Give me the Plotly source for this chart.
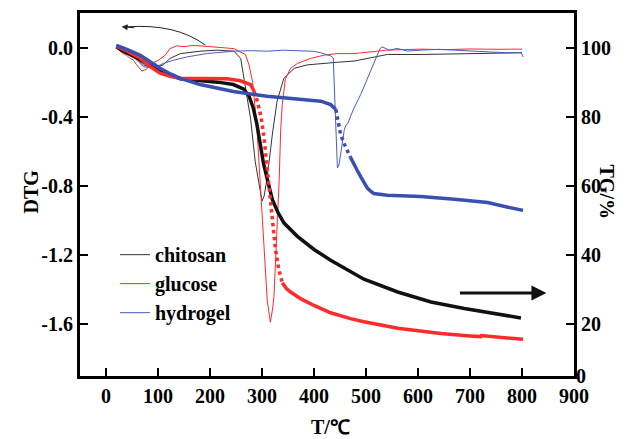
import plotly.graph_objects as go

# ---------------- data ----------------
# DTG curves (left axis)
chitosan_dtg_T = [20, 24, 35, 52, 72, 91, 110, 123, 143, 181, 214, 246, 259, 268, 278, 287, 297, 300, 304,
                  310, 320, 329, 342, 362, 387, 413, 445, 477, 516, 541, 606, 702, 800]
chitosan_dtg = [0.01, -0.01, -0.02, -0.044, -0.10, -0.12, -0.10, -0.063, -0.035, -0.021, -0.015, -0.021,
                -0.063, -0.22, -0.41, -0.66, -0.85, -0.888, -0.86, -0.754, -0.50, -0.31, -0.178, -0.12,
                -0.10, -0.095, -0.085, -0.078, -0.054, -0.04, -0.04, -0.035, -0.03]

glucose_dtg_T = [20, 24, 27, 33, 40, 46, 52, 59, 64, 69, 75, 80, 85, 92, 100, 107, 114, 123, 136, 150, 165,
                 181, 198, 214, 230, 246, 258, 268, 275, 282, 290, 297, 304, 310, 316, 320, 323, 327, 330,
                 333, 336, 339, 345, 355, 368, 393, 419, 445, 477, 510, 541, 570, 606, 650, 700, 750, 800]
glucose_dtg = [0.014, -0.01, -0.02, -0.035, -0.045, -0.063, -0.07, -0.10, -0.115, -0.136, -0.13, -0.12,
               -0.10, -0.085, -0.075, -0.06, -0.044, -0.006, 0.01, 0.005, 0.012, 0.01, 0.006, 0.004,
               -0.003, -0.006, -0.025, -0.04, -0.10, -0.20, -0.45, -0.80, -1.20, -1.46, -1.589, -1.52,
               -1.44, -1.20, -1.0, -0.77, -0.47, -0.33, -0.18, -0.12, -0.092, -0.063, -0.044, -0.035,
               -0.035, -0.025, -0.015, -0.012, -0.009, -0.012, -0.008, -0.01, -0.009]

hydrogel_dtg_T = [20, 35, 53, 72, 91, 110, 130, 156, 195, 220, 246, 280, 310, 340, 374, 400, 413, 425, 432,
                  437, 441, 445, 448, 452, 455, 458, 461, 465, 470, 477, 490, 503, 516, 527, 531, 545, 560,
                  580, 606, 640, 670, 700, 734, 770, 798, 802]
hydrogel_dtg = [0.014, -0.02, -0.054, -0.11, -0.12, -0.092, -0.073, -0.054, -0.034, -0.028, -0.021, -0.018,
                -0.021, -0.015, -0.017, -0.022, -0.03, -0.04, -0.048, -0.06, -0.40, -0.696, -0.68, -0.60,
                -0.54, -0.48, -0.45, -0.44, -0.40, -0.35, -0.27, -0.18, -0.08, -0.006, 0.004, -0.015,
                -0.005, -0.02, -0.015, -0.01, -0.015, -0.02, -0.025, -0.03, -0.029, -0.054]

# TG curves (right axis)
chitosan_tg_T = [20, 30, 66, 104, 143, 181, 215, 245, 265, 275, 283, 290, 297, 303, 310, 320, 330, 342, 368,
                 400, 432, 467, 496, 561, 625, 689, 753, 798]
chitosan_tg = [100.2, 99.2, 96.5, 93.0, 91.0, 90.5, 90.0, 89.3, 88.0, 86.0, 82.6, 78.0, 72.0, 66.4, 62.0,
               56.0, 52.5, 49.3, 45.4, 41.6, 38.5, 35.4, 33.0, 29.3, 26.4, 24.5, 22.8, 21.8]

glucose_tg_T = [20, 40, 66, 85, 104, 125, 143, 181, 233, 258, 270, 278, 285]
glucose_tg = [100.4, 99.0, 96.9, 94.5, 92.6, 91.6, 91.1, 91.0, 91.0, 90.4, 89.8, 89.3, 87.3]
glucose_tg_fast_T = [285, 291, 298, 304, 310, 316, 320, 326, 332, 339]
glucose_tg_fast = [87.3, 84.5, 80.0, 74.0, 65.0, 57.0, 50.5, 41.6, 36.0, 32.0]
glucose_tg_end_T = [339, 347, 355, 375, 400, 432, 470, 496, 561, 644, 700, 721, 722, 760, 802]
glucose_tg_end = [32.0, 30.3, 29.3, 27.3, 25.4, 23.3, 21.6, 20.7, 18.8, 17.3, 16.6, 16.4, 16.7, 16.1, 15.6]

hydrogel_tg_T = [20, 40, 66, 85, 104, 125, 143, 181, 245, 310, 370, 413, 432, 442]
hydrogel_tg = [100.6, 99.5, 97.8, 95.8, 94.0, 92.3, 91.1, 89.3, 87.3, 85.9, 85.1, 84.5, 83.5, 82.1]
hydrogel_tg_fast_T = [442, 446, 451, 457, 464, 470]
hydrogel_tg_fast = [82.1, 79.0, 75.0, 72.5, 70.2, 68.3]
hydrogel_tg_end_T = [470, 477, 483, 490, 497, 503, 510, 515, 541, 605, 670, 734, 773, 802]
hydrogel_tg_end = [68.3, 66.5, 64.5, 62.6, 60.8, 59.3, 58.3, 57.8, 57.3, 56.9, 56.1, 55.2, 53.8, 52.9]

x_ticks = [0, 100, 200, 300, 400, 500, 600, 700, 800, 900]
dtg_ticks = [-1.6, -1.2, -0.8, -0.4, 0.0]
dtg_tick_text = ["-1.6", "-1.2", "-0.8", "-0.4", "0.0"]
tg_ticks = [20, 40, 60, 80, 100]

# ---------------- styling ----------------
BLACK = "#111111"
RED = "#ff2a2a"
BLUE = "#4a5cc0"
BLUE_T = "#3a50b0"
FONT = dict(family="Liberation Serif", size=20, color="black", weight="bold")

# figure is drawn inside the page's 8px body margin
OFF = 8
W, H = 635 - OFF, 439 - OFF
L, R, T, B = 72, 61, 2, 63
pw, ph = W - L - R, H - T - B


def px_to_paper(sx, sy):
    """screen pixel -> paper fraction"""
    return (sx - OFF - L) / pw, (H - B - (sy - OFF)) / ph


fig = go.Figure()

fig.add_trace(go.Scatter(x=chitosan_dtg_T, y=chitosan_dtg, mode="lines", name="chitosan",
                         line=dict(color="#333333", width=1)))
fig.add_trace(go.Scatter(x=glucose_dtg_T, y=glucose_dtg, mode="lines", name="glucose",
                         line=dict(color=RED, width=1)))
fig.add_trace(go.Scatter(x=hydrogel_dtg_T, y=hydrogel_dtg, mode="lines", name="hydrogel",
                         line=dict(color=BLUE, width=1)))

fig.add_trace(go.Scatter(x=chitosan_tg_T, y=chitosan_tg, yaxis="y2", mode="lines", showlegend=False,
                         line=dict(color=BLACK, width=3.5)))
fig.add_trace(go.Scatter(x=glucose_tg_T, y=glucose_tg, yaxis="y2", mode="lines", showlegend=False,
                         line=dict(color=RED, width=3.5)))
fig.add_trace(go.Scatter(x=glucose_tg_fast_T, y=glucose_tg_fast, yaxis="y2", mode="lines", showlegend=False,
                         line=dict(color=RED, width=3.5, dash="dot")))
fig.add_trace(go.Scatter(x=glucose_tg_end_T, y=glucose_tg_end, yaxis="y2", mode="lines", showlegend=False,
                         line=dict(color=RED, width=3.5)))
fig.add_trace(go.Scatter(x=hydrogel_tg_T, y=hydrogel_tg, yaxis="y2", mode="lines", showlegend=False,
                         line=dict(color=BLUE_T, width=3.5)))
fig.add_trace(go.Scatter(x=hydrogel_tg_fast_T, y=hydrogel_tg_fast, yaxis="y2", mode="lines", showlegend=False,
                         line=dict(color=BLUE_T, width=3.5, dash="dot")))
fig.add_trace(go.Scatter(x=hydrogel_tg_end_T, y=hydrogel_tg_end, yaxis="y2", mode="lines", showlegend=False,
                         line=dict(color=BLUE_T, width=3.5)))

axis_common = dict(showline=True, linecolor="black", linewidth=3, ticks="inside", ticklen=8, tickwidth=2,
                   tickcolor="black", showgrid=False, zeroline=False, tickfont=FONT)

lx, ly = px_to_paper(115, 234)
fig.update_layout(
    width=W, height=H,
    margin=dict(l=L, r=R, t=T, b=B),
    paper_bgcolor="white", plot_bgcolor="white",
    showlegend=True,
    legend=dict(x=lx, y=ly, xanchor="left", yanchor="top", bgcolor="rgba(0,0,0,0)",
                font=dict(family="Liberation Serif", size=20, color="black", weight="bold"),
                tracegroupgap=0, itemwidth=30),
    xaxis=dict(range=[-50, 900], tickvals=x_ticks, mirror=True, **axis_common),
    yaxis=dict(range=[-1.9, 0.2], tickvals=dtg_ticks, ticktext=dtg_tick_text, **axis_common),
    yaxis2=dict(range=[5, 110], tickvals=tg_ticks, overlaying="y", side="right", **axis_common),
)

TITLE_FONT = dict(family="Liberation Serif", size=20, color="black", weight="bold")
for text, sx, sy, ang in [("DTG", 18, 190, -90), ("TG/%", 620, 190, 90), ("T/℃", 330, 441, 0)]:
    px_, py_ = px_to_paper(sx, sy)
    fig.add_annotation(text=text, x=px_, y=py_, xref="paper", yref="paper", showarrow=False,
                       textangle=ang, font=TITLE_FONT)

# right-axis corner label
fig.add_annotation(text="0", x=1, xshift=14, y=5, xref="paper", yref="y2", showarrow=False, font=FONT)

# curved arrow pointing to the DTG axis
fig.add_shape(type="path", path="M 191,0.014 Q 135,0.14 40,0.12", xref="x", yref="y",
              line=dict(color="#222222", width=1))
fig.add_annotation(x=30, y=0.12, xref="x", yref="y", ax=14, ay=1, text="", showarrow=True,
                   arrowhead=2, arrowsize=1.2, arrowwidth=1, arrowcolor="#222222")
# straight arrow pointing to the TG axis
fig.add_annotation(x=847, y=29, xref="x", yref="y2", ax=-88, ay=0, text="", showarrow=True,
                   arrowhead=2, arrowsize=1, arrowwidth=3, arrowcolor=BLACK)

fig.write_html("out.html")
